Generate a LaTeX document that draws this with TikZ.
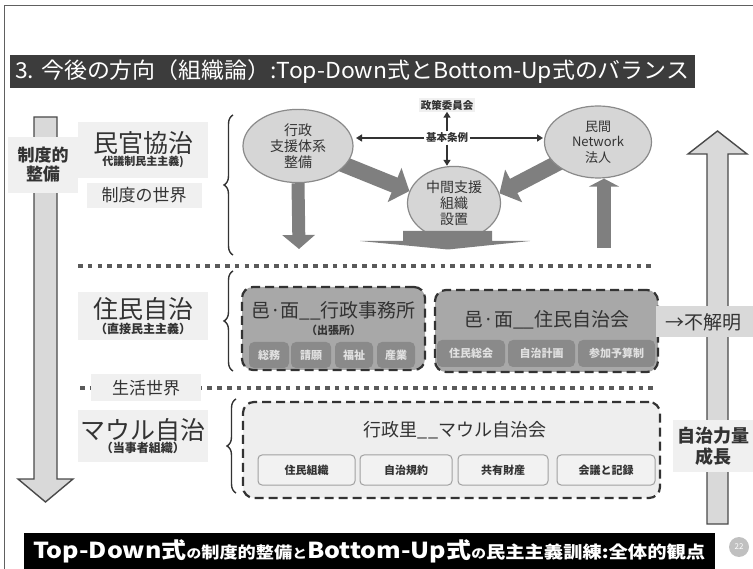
\documentclass[tikz,border=0pt]{standalone}
\usepackage{fontspec}
\usepackage{graphicx}
\setmainfont{Noto Sans CJK JP}
\usetikzlibrary{shapes.geometric,arrows.meta,decorations.pathreplacing,calc}
\definecolor{framec}{HTML}{606060}
\definecolor{titlebg}{HTML}{3C3C3C}
\definecolor{lightbg}{HTML}{F0F0F0}
\definecolor{arrowfill}{HTML}{D9D9D9}
\definecolor{arrowline}{HTML}{4A4A4A}
\definecolor{ellfill}{HTML}{D6D6D6}
\definecolor{ellline}{HTML}{8A8A8A}
\definecolor{thickc}{HTML}{7F7F7F}
\definecolor{dotc}{HTML}{5A5A5A}
\definecolor{boxfill}{HTML}{A8A8A8}
\definecolor{subfill}{HTML}{8A8A8A}
\definecolor{box3fill}{HTML}{EEEEEE}
\definecolor{sub3fill}{HTML}{F2F2F2}
\definecolor{sub3line}{HTML}{A0A0A0}
\definecolor{txtc}{HTML}{333333}
\definecolor{pagec}{HTML}{C0C0C0}
\pgfdeclarelayer{bg}
\pgfsetlayers{bg,main}
\newcommand{\myfs}[1]{\fontsize{#1}{#1}\selectfont}
\tikzset{
  labelbg/.style={fill=lightbg, inner sep=2pt, text=txtc, align=center},
  ellnode/.style={ellipse, draw=ellline, line width=1.2pt, fill=ellfill, text=txtc, align=center, font=\myfs{14}\linespread{1.15}\selectfont},
  thickarrow/.style={draw=thickc, line width=16pt, -{Triangle[length=16pt,width=36pt]}},
  thinarrow/.style={draw=txtc, line width=1.6pt, -{Triangle[length=6pt,width=7pt]}},
  dotline/.style={draw=dotc, line width=4.5pt, dash pattern=on 4.5pt off 5.3pt},
  dashbox/.style={draw=txtc, line width=2.2pt, dash pattern=on 9pt off 5pt, rounded corners=11pt},
  subbox/.style={fill=subfill, rounded corners=5pt, text=white!88!black, font=\myfs{11}\bfseries, inner sep=0pt},
  sub3box/.style={fill=sub3fill, draw=sub3line, line width=1pt, rounded corners=4pt, text=txtc, font=\myfs{11}\bfseries, inner sep=0pt, minimum height=30pt},
  bracec/.style={draw=txtc, line width=1.4pt, decorate, decoration={brace, amplitude=9pt}},
  bigarrow/.style={fill=arrowfill, draw=arrowline, line width=1.4pt, line join=miter}
}
\begin{document}
\begin{tikzpicture}[x=1pt,y=-1pt]
\useasboundingbox (0,0) rectangle (753,569);
% frame
\draw[framec, line width=1pt] (4,569) -- (4,6) -- (753,6);
% title
\node[fill=titlebg, minimum width=685pt, minimum height=33pt, anchor=north west, inner sep=0pt] (titlebar) at (10,55) {};
\node[anchor=west, text=white, inner sep=0pt] (title) at (15,71.5) {\resizebox{674pt}{\height}{\myfs{22}3. 今後の方向（組織論）:Top-Down式とBottom-Up式のバランス}};

% big left down arrow
\draw[bigarrow] (34,117) -- (57,117) -- (57,479) -- (73,479) -- (45.5,502) -- (18,479) -- (34,479) -- cycle;
% big right up arrow
\draw[bigarrow] (707,524) -- (728,524) -- (728,154) -- (747,154) -- (717.5,131) -- (688,154) -- (707,154) -- cycle;

% left labels
\node[labelbg, font=\myfs{17}\bfseries, minimum width=70pt, minimum height=56pt] (seido) at (43,165) {制度的\\[2pt]整備};
\node[labelbg, minimum width=130pt, minimum height=56pt] (minkan) at (143,150) {\myfs{25}民官協治\\[1pt]\myfs{11}\bfseries 代議制民主主義)};
\node[labelbg, font=\myfs{17}, minimum width=115pt, minimum height=25pt] (seidosekai) at (144,195.5) {制度の世界};

\node[labelbg, minimum width=130pt, minimum height=48pt] (jumin) at (143,316) {\myfs{25}住民自治\\[1pt]\myfs{12}\bfseries （直接民主主義）};
\node[labelbg, minimum width=130pt, minimum height=52pt] (maul) at (143,436) {\myfs{25}マウル自治\\[0pt]\myfs{12}\bfseries （当事者組織）};

% dotted lines
\coordinate (d1a) at (78,266);
\coordinate (d1b) at (656,266);
\draw[dotline] (d1a) -- (d1b);
\coordinate (d2a) at (80,388);
\coordinate (d2b) at (656,388);
\draw[dotline] (d2a) -- (d2b);
\node[labelbg, font=\myfs{17}, minimum width=110pt, minimum height=27pt] (seikatsu) at (146,388) {生活世界};

% braces (drawn bottom to top so tip points left)
\coordinate (b1b) at (233,255); \coordinate (b1t) at (233,115);
\draw[bracec] (b1b) -- (b1t);
\coordinate (b2b) at (233,371); \coordinate (b2t) at (233,271);
\draw[bracec] (b2b) -- (b2t);
\coordinate (b3b) at (236,493); \coordinate (b3t) at (236,399);
\draw[bracec] (b3b) -- (b3t);

% ellipses
\node[ellnode, minimum width=110pt, minimum height=66pt] (gx) at (298,146) {行政\\支援体系\\整備};
\node[ellnode, minimum width=93pt, minimum height=62pt] (mid) at (454,203) {中間支援\\組織\\設置};
\node[ellnode, minimum width=107pt, minimum height=72pt, font=\myfs{13}\linespread{1.2}\selectfont] (mk) at (598,142) {民間\\Network\\法人};

% thick arrows (behind ellipses)
\begin{pgfonlayer}{bg}
\draw[thickarrow] (gx.center) -- (mid.165);
\draw[thickarrow] (mk.center) -- (mid.12);
\end{pgfonlayer}
\coordinate (gxdown) at (299,249);
\draw[draw=thickc, line width=13pt, -{Triangle[length=14pt,width=32pt]}] (gx.south) -- (gxdown);
\coordinate (mkup) at (604,248);
\draw[draw=thickc, line width=14pt, -{Triangle[length=8pt,width=30pt]}] (mkup) -- (mkup |- mk.south);
% base under middle ellipse
\fill[thickc] (403,231) -- (492,231) -- (492,241) -- (530,241) -- (448,249.5) -- (360,241) -- (403,241) -- cycle;

% basic ordinance
\node[font=\myfs{10.5}\bfseries, text=txtc, fill=white, inner sep=1.5pt] (kihon) at (447,138) {基本条例};
\node[font=\myfs{10.5}\bfseries, text=txtc, fill=lightbg, inner sep=1.5pt] (seisaku) at (447,105) {政策委員会};
\coordinate (kl) at (356,138);
\coordinate (kr) at (543,138);
\draw[thinarrow] (kihon.west) -- (kl);
\draw[thinarrow] (kihon.east) -- (kr);
\draw[thinarrow] (kihon.north) -- (seisaku.south);
\draw[thinarrow] (kihon.south) -- (kihon.south |- mid.north);

% box 1
\node[dashbox, fill=boxfill, minimum width=183pt, minimum height=83pt] (box1) at (333.5,328.5) {};
\node[font=\myfs{19}, text=txtc] (box1t) at (333.5,311) {邑·面\_\_行政事務所};
\node[font=\myfs{11}\bfseries, text=txtc] (box1s) at (333.5,330) {（出張所）};
\node[subbox, minimum width=40pt, minimum height=26pt] (s11) at (269,355) {総務};
\node[subbox, minimum width=40pt, minimum height=26pt] (s12) at (311,355) {請願};
\node[subbox, minimum width=38pt, minimum height=26pt] (s13) at (354,355) {福祉};
\node[subbox, minimum width=38pt, minimum height=26pt] (s14) at (396,355) {産業};

% box 2
\node[dashbox, fill=boxfill, minimum width=223pt, minimum height=82pt] (box2) at (546.5,331) {};
\node[font=\myfs{19}, text=txtc] (box2t) at (547,320) {邑·面\_\_住民自治会};
\node[subbox, minimum width=68pt, minimum height=27pt] (s21) at (471,353.5) {住民総会};
\node[subbox, minimum width=67pt, minimum height=27pt] (s22) at (541.5,353.5) {自治計画};
\node[subbox, minimum width=77pt, minimum height=27pt] (s23) at (616.5,353.5) {参加予算制};

% unclear
\node[fill=arrowfill, minimum width=98pt, minimum height=31pt, anchor=west, inner sep=0pt] (fumei) at (656,322) {};
\node[font=\myfs{19}, text=txtc, anchor=west, inner sep=0pt] (fumeit) at (665,322) {→不解明};

% box 3
\node[dashbox, fill=box3fill, minimum width=417pt, minimum height=96pt] (box3) at (451.5,450) {};
\node[font=\myfs{18}, text=txtc] (box3t) at (455,430) {行政里\_\_マウル自治会};
\node[sub3box, minimum width=97pt] (s31) at (306.5,470) {住民組織};
\node[sub3box, minimum width=92pt] (s32) at (406,470) {自治規約};
\node[sub3box, minimum width=90pt] (s33) at (503,470) {共有財産};
\node[sub3box, minimum width=98pt] (s34) at (606,470) {会議と記録};

% growth label
\node[labelbg, minimum width=80pt, minimum height=52pt, anchor=west, inner sep=0pt] (growth) at (673,446) {};
\node[font=\myfs{18}\bfseries, text=txtc, align=center, anchor=west, inner sep=0pt] (growtht) at (677,446) {自治力量\\[3pt]成長};

% bottom bar
\node[fill=black, minimum width=691pt, minimum height=36pt, anchor=north west, inner sep=0pt] (botbar) at (24,533) {};
\node[text=white, anchor=west, inner sep=0pt] (bott) at (33,551) {\resizebox{672pt}{\height}{\bfseries{\myfs{22}Top-Down式}{\myfs{13}の}{\myfs{16}制度的整備}{\myfs{13}と}{\myfs{22}Bottom-Up式}{\myfs{13}の}{\myfs{17}民主主義訓練:全体的観点}}};
% page number
\node[circle, fill=pagec, minimum size=20pt, inner sep=0pt, text=white, font=\myfs{8}] (page) at (739,547) {22};
\end{tikzpicture}
\end{document}
